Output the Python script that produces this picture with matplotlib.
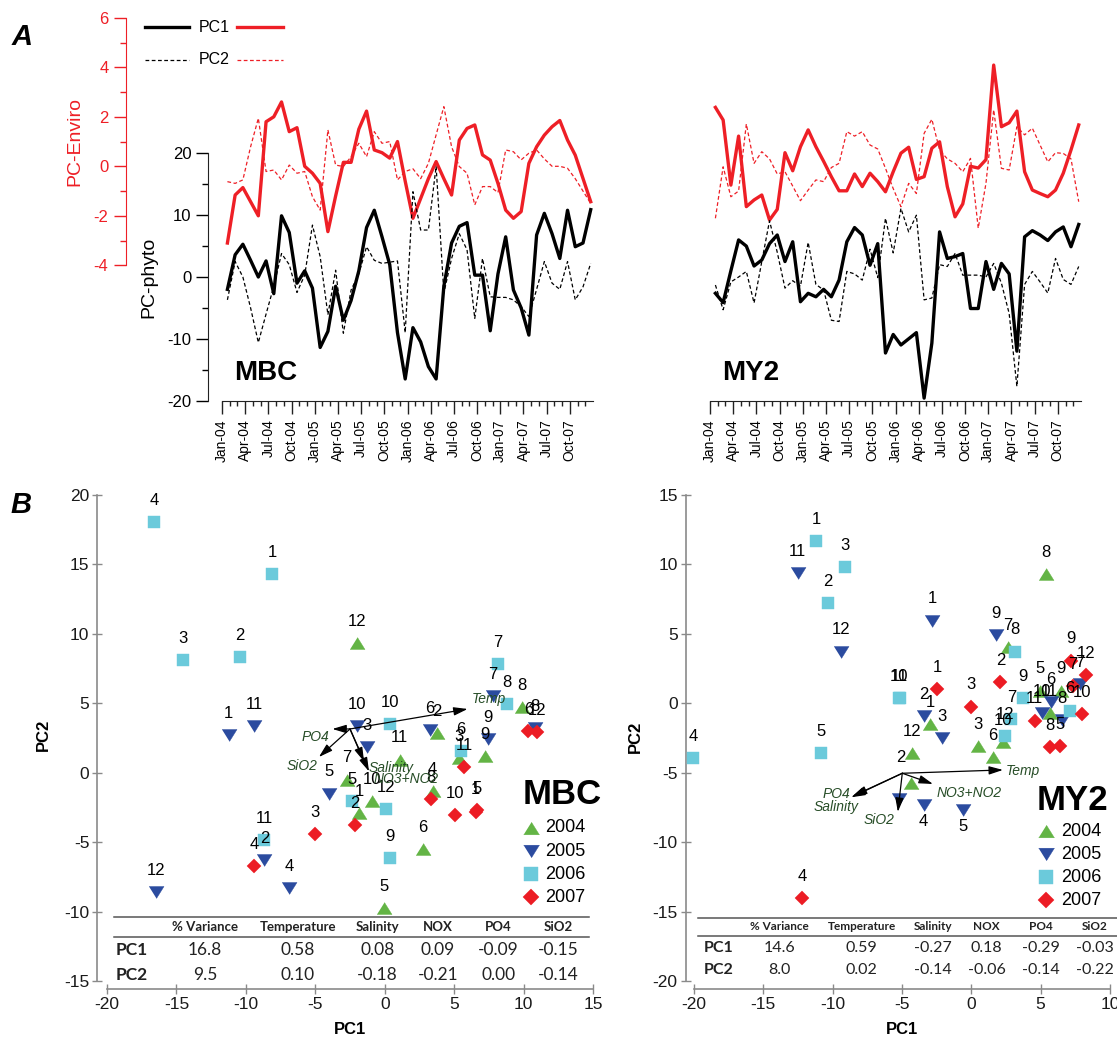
import numpy as np
import matplotlib.pyplot as plt

plt.rcParams['font.family'] = ['Liberation Sans', 'DejaVu Sans']
plt.rcParams['axes.unicode_minus'] = False

W, H = 1117, 1040

# ---------------- panel A : monthly PC scores, Jan-04 .. Dec-07 ----------------
months = np.arange(48)
quarter_ticks = np.arange(0, 48, 3)
quarter_labels = [f'{m}-{y:02d}' for y in range(4, 8) for m in ('Jan', 'Apr', 'Jul', 'Oct')]

mbc_phyto_pc1 = [-2.0, 3.6, 5.3, 2.7, 0.0, 2.6, -2.7, 9.9, 7.2, -1.0, 1.0, -1.8,
                 -11.4, -8.8, -1.5, -7.0, -3.8, 1.0, 8.0, 10.8, 6.5, 2.0, -9.0, -16.5,
                 -8.2, -10.5, -14.5, -16.5, -1.5, 5.5, 8.2, 8.8, 0.3, 0.3, -8.7, 0.5,
                 6.5, -2.1, -5.0, -9.4, 6.8, 10.3, 7.0, 3.0, 10.8, 4.9, 5.5, 10.9]
mbc_phyto_pc2 = [-3.7, 2.5, 0.0, -5.0, -10.6, -6.0, -1.5, 3.8, 2.0, -2.5, 0.3, 8.4,
                 3.3, -6.1, 1.1, -9.1, -2.1, 0.5, 4.9, 2.7, 2.2, 2.4, 2.6, -9.0,
                 13.8, 7.6, 7.6, 17.9, -2.6, 3.0, 7.0, 4.4, -6.7, 3.0, -3.2, -3.3,
                 -3.3, -3.7, -4.8, -6.4, -2.0, 2.5, -1.0, -2.0, 2.5, -3.7, -1.6, 2.2]
mbc_env_pc1 = [-3.1, -1.16, -0.86, -1.43, -2.0, 1.8, 2.0, 2.6, 1.4, 1.56, 0.0, -0.28,
               -0.69, -2.64, -1.2, 0.16, 0.16, 1.5, 2.23, 0.66, 0.55, 0.33, 1.0, -0.6,
               -2.1, -1.3, -0.5, 0.19, -0.5, -1.16, 1.06, 1.53, 1.67, 0.46, 0.25, -0.69,
               -1.77, -2.1, -1.83, 0.12, 0.79, 1.26, 1.6, 1.85, 1.06, 0.45, -0.49, -1.43]
mbc_env_pc2 = [-0.62, -0.69, -0.55, 0.79, 1.94, -0.21, -0.15, -0.55, 0.05, -0.28, -0.21, -1.23,
               -1.77, 1.47, 0.05, -0.01, 0.39, 0.93, 0.39, 1.4, 0.93, 1.0, -0.55, -0.21,
               -0.1, -0.5, 0.12, 1.27, 2.41, 0.79, -0.01, -0.28, -1.56, -0.82, -0.82, -1.06,
               0.66, 0.59, 0.26, 0.53, 0.66, 0.3, 0.0, 0.0, -0.08, -0.5, -1.0, -1.5]

my2_phyto_pc1 = [-2.64, -4.15, 1.0, 6.0, 5.0, 1.78, 2.75, 5.4, 6.8, 2.5, 5.7, -4.0,
                 -2.64, -3.2, -2.0, -3.2, -0.49, 5.7, 8.0, 6.8, 1.9, 5.4, -12.3, -9.3,
                 -11.0, -10.0, -9.0, -19.6, -10.7, 7.3, 3.0, 3.3, 3.8, -5.1, -5.1, 2.5,
                 -2.0, 2.2, 0.5, -12.0, 6.5, 7.5, 6.8, 5.9, 7.3, 8.1, 4.9, 8.5]
my2_phyto_pc2 = [-1.3, -5.3, -0.8, 0.0, 0.9, -4.2, 2.5, 9.1, 4.0, -1.8, -0.6, -1.5,
                 5.6, -1.2, -2.1, -7.0, -7.2, 0.9, 0.5, -0.5, 4.5, -0.1, 9.5, 3.9,
                 11.1, 7.3, 10.0, -3.7, -3.4, 2.0, 1.7, 3.8, 0.3, 0.3, 0.3, 0.0,
                 2.2, -1.0, -5.9, -17.7, -1.2, 0.9, -0.8, -2.6, 3.0, -0.4, -1.2, 1.7]
my2_env_pc1 = [2.38, 1.87, -0.76, 1.22, -1.63, -1.36, -1.16, -2.17, -1.74, 0.55, -0.18, 0.79,
               1.47, 0.79, 0.2, -0.42, -0.99, -0.99, -0.31, -0.82, -0.28, -0.62, -1.03, -0.22,
               0.53, 0.77, -0.53, -0.42, 0.73, 0.99, -0.82, -2.04, -1.52, 0.0, -0.07, 0.27,
               4.09, 1.6, 1.76, 2.23, -0.22, -0.96, -1.1, -1.23, -0.96, -0.28, 0.66, 1.67]
my2_env_pc2 = [-2.1, -0.02, -1.23, -1.0, 1.71, 0.12, 0.59, 0.3, -0.31, -0.22, -0.8, -1.39,
               -0.96, -0.55, -0.62, -0.05, 0.12, 1.4, 1.22, 1.4, 0.86, 0.7, -0.08, -0.9,
               -1.63, -0.69, -1.1, 1.33, 1.9, 0.66, 0.3, 0.12, -0.22, 0.32, -2.5, -0.69,
               2.28, -0.08, -0.15, 1.6, 1.27, 1.54, 0.86, 0.18, 0.55, 0.52, 0.3, -1.43]

# ---------------- panel B : PCA scores by month, one dict entry per year ----------------
years = [2004, 2005, 2006, 2007]

mbc_month = {2004: [12, 2, 8, 3, 9, 11, 7, 10, 1, 4, 6, 5],
             2005: [1, 11, 10, 3, 6, 7, 9, 5, 2, 4, 12, 8],
             2006: [4, 1, 3, 2, 7, 8, 10, 6, 5, 12, 11, 9],
             2007: [6, 12, 11, 8, 10, 5, 1, 2, 3, 4]}
mbc_pc1 = {2004: [-1.97, 3.73, 9.86, 5.36, 7.24, 1.08, -2.74, -0.94, -1.83, 3.45, 2.75, -0.08],
           2005: [-11.23, -9.38, -1.97, -1.25, 3.25, 7.8, 7.43, -3.98, -8.67, -6.91, -16.45, 10.85],
           2006: [-16.6, -8.1, -14.55, -10.44, 8.13, 8.8, 0.36, 5.48, -2.35, 0.1, -8.67, 0.36],
           2007: [10.35, 11.0, 5.72, 3.32, 5.04, 6.67, 6.55, -2.16, -5.05, -9.38]}
mbc_pc2 = {2004: [9.34, 2.86, 4.73, 1.06, 1.17, 0.94, -0.5, -2.07, -2.9, -1.35, -5.48, -9.75],
           2005: [2.74, 3.34, 3.34, 1.82, 3.05, 5.5, 2.43, -1.5, -6.27, -8.31, -8.6, 3.2],
           2006: [18.06, 14.3, 8.14, 8.3, 7.85, 4.97, 3.53, 1.53, -2.02, -2.64, -4.83, -6.15],
           2007: [2.98, 2.92, 0.41, -1.87, -3.03, -2.71, -2.8, -3.79, -4.4, -6.7]}

my2_month = {2004: [8, 7, 1, 12, 2, 3, 6, 10, 5, 9, 11],
             2005: [11, 12, 1, 9, 2, 3, 4, 5, 6, 10, 8, 7, ''],
             2006: [1, 3, 2, 8, 10, 11, 9, 7, 12, 4, 5, 6],
             2007: [1, 3, 2, 9, 12, 7, 10, 11, 8, 5, 4]}
my2_pc1 = {2004: [5.41, 2.64, -2.96, -4.29, -4.38, 0.48, 1.56, 2.28, 4.93, 6.49, 5.65],
           2005: [-12.51, -9.38, -2.84, 1.75, -3.44, -2.09, -3.44, -0.6, 5.72, 5.12, 6.56, 7.81, -5.25],
           2006: [-11.18, -9.12, -10.35, 3.12, -5.22, -5.17, 3.72, 2.88, 2.4, -20.04, -10.87, 7.09],
           2007: [-2.45, 0.0, 2.09, 7.21, 8.3, 7.33, 7.98, 4.57, 5.7, 6.37, -12.22]}
my2_pc2 = {2004: [9.29, 4.03, -1.49, -3.6, -5.72, -3.08, -3.89, -2.77, 0.91, 0.91, -0.72],
           2005: [9.37, 3.72, 5.95, 4.92, -0.92, -2.52, -7.33, -7.69, 0.12, -0.72, -1.2, 1.39, -6.9],
           2006: [11.69, 9.8, 7.2, 3.72, 0.36, 0.36, 0.36, -1.15, -2.36, -3.96, -3.6, -0.53],
           2007: [1.01, -0.24, 1.51, 3.07, 2.04, 1.25, -0.77, -1.25, -3.13, -3.08, -14.05]}
# labels that sit somewhere other than straight above their marker (points)
my2_label_shift = {(2005, 4): (0, -12), (2005, 5): (0, -12), (2004, 2): (-7, 18)}

# environmental loading vectors drawn in the biplots
mbc_vec_origin = (-2.5, 3.15)
mbc_vec_names = ['Temp', 'PO4', 'SiO2', 'Salinity', 'NO3+NO2']
mbc_vec_x = [5.97, -3.77, -4.74, -1.49, -1.13]
mbc_vec_y = [4.59, 3.15, 1.13, 0.81, 0.09]
mbc_vec_lab_x = [7.49, -4.99, -5.92, 0.49, 1.55]
mbc_vec_lab_y = [5.31, 2.57, 0.45, 0.34, -0.43]

my2_vec_origin = (-4.98, -5.04)
my2_vec_names = ['Temp', 'NO3+NO2', 'PO4', 'Salinity', 'SiO2']
my2_vec_x = [2.28, -2.77, -8.54, -8.66, -5.3]
my2_vec_y = [-4.8, -5.81, -6.68, -6.77, -7.82]
my2_vec_lab_x = [3.74, -0.14, -9.76, -9.77, -6.62]
my2_vec_lab_y = [-4.86, -6.44, -6.56, -7.49, -8.41]

# loadings tables
table_cols = ['% Variance', 'Temperature', 'Salinity', 'NOX', 'PO4', 'SiO2']
mbc_table_pc1 = ['16.8', '0.58', '0.08', '0.09', '-0.09', '-0.15']
mbc_table_pc2 = ['9.5', '0.10', '-0.18', '-0.21', '0.00', '-0.14']
my2_table_pc1 = ['14.6', '0.59', '-0.27', '0.18', '-0.29', '-0.03']
my2_table_pc2 = ['8.0', '0.02', '-0.14', '-0.06', '-0.14', '-0.22']

RED = '#ee1f26'
GREEN = '#63b445'
BLUE = '#2b4b9f'
CYAN = '#6bcadb'
DRED = '#ec1c24'
GREY = '#8a8a8a'
VEC_TXT = '#274d27'

tri_up = [(-1, -0.8), (1, -0.8), (0, 0.8)]
tri_dn = [(-1, 0.8), (1, 0.8), (0, -0.8)]
year_style = {2004: (GREEN, tri_up, 10.8), 2005: (BLUE, tri_dn, 10.8),
              2006: (CYAN, 's', 9.0), 2007: (DRED, 'D', 7.6)}

fig = plt.figure(figsize=(W / 100, H / 100), dpi=100)


def px_axes(x0, y0, x1, y1, **kw):
    return fig.add_axes([x0 / W, 1 - y1 / H, (x1 - x0) / W, (y1 - y0) / H], **kw)


# shared vertical scales of panel A, in pixels
TS_TOP, TS_BOT = 14, 401
PHY_ZERO, PHY_PX = 277.0, 6.18
ENV_ZERO, ENV_PX = 166.3, 24.75
MONTH_PX = 7.73


def time_panel(x0, phy1, phy2, env1, env2, show_y):
    ax = px_axes(x0, TS_TOP, x0 + 48 * MONTH_PX, TS_BOT)
    axr = ax.twinx()
    ax.set_zorder(axr.get_zorder() + 1)
    ax.patch.set_visible(False)
    ax.set_xlim(0, 48)
    ax.set_ylim((PHY_ZERO - TS_BOT) / PHY_PX, (PHY_ZERO - TS_TOP) / PHY_PX)
    axr.set_ylim((ENV_ZERO - TS_BOT) / ENV_PX, (ENV_ZERO - TS_TOP) / ENV_PX)

    t = months + 0.7
    axr.plot(t, env2, color=RED, lw=0.9, ls=(0, (3, 2)))
    axr.plot(t, env1, color=RED, lw=2.4)
    ax.plot(t, phy2, color='black', lw=0.9, ls=(0, (3, 2)))
    ax.plot(t, phy1, color='black', lw=2.4)

    for a in (ax, axr):
        for s in a.spines.values():
            s.set_visible(False)
    ax.spines['bottom'].set_visible(True)
    ax.spines['bottom'].set_color('#222222')
    ax.set_xticks(quarter_ticks, quarter_labels, rotation=90, fontsize=10)
    ax.set_xticks(months, minor=True)
    ax.tick_params(axis='x', which='major', length=9, width=1, pad=4, color='#222222')
    ax.tick_params(axis='x', which='minor', length=3.8, width=1, color='#222222')

    if show_y:
        sp = ax.spines['left']
        sp.set_visible(True)
        sp.set_color('#222222')
        sp.set_position(('outward', 10))
        sp.set_bounds(-20, 20)
        ax.set_yticks([-20, -10, 0, 10, 20])
        ax.set_yticks([-15, -5, 5, 15], minor=True)
        ax.tick_params(axis='y', which='major', length=9, width=1, labelsize=12, pad=3)
        ax.tick_params(axis='y', which='minor', length=4, width=1)

        axr.yaxis.set_ticks_position('left')
        sp = axr.spines['left']
        sp.set_visible(True)
        sp.set_color(RED)
        sp.set_position(('outward', 69.3))
        sp.set_bounds(-4, 6)
        axr.set_yticks([-4, -2, 0, 2, 4, 6])
        axr.set_yticks([-3, -1, 1, 3, 5], minor=True)
        axr.tick_params(axis='y', which='major', length=8.5, width=1, labelsize=12,
                        pad=4, colors=RED)
        axr.tick_params(axis='y', which='minor', length=4, width=1, colors=RED)
    else:
        ax.tick_params(axis='y', which='both', left=False, labelleft=False)
        axr.tick_params(axis='y', which='both', left=False, labelleft=False,
                        right=False, labelright=False)
    return ax


time_panel(222, mbc_phyto_pc1, mbc_phyto_pc2, mbc_env_pc1, mbc_env_pc2, True)
time_panel(710, my2_phyto_pc1, my2_phyto_pc2, my2_env_pc1, my2_env_pc2, False)


def biplot(box, xlim, ylim, left_out, month, pc1, pc2, shifts,
           vec_origin, vec_names, vec_x, vec_y, lab_x, lab_y):
    ax = px_axes(*box)
    ax.set_xlim(*xlim)
    ax.set_ylim(*ylim)
    ax.patch.set_visible(False)
    for s in ('top', 'right'):
        ax.spines[s].set_visible(False)
    for s in ('left', 'bottom'):
        ax.spines[s].set_color(GREY)
        ax.spines[s].set_linewidth(1.2)
    ax.spines['left'].set_position(('outward', left_out))
    ax.spines['bottom'].set_position(('outward', 5.8))
    ax.set_xticks(np.arange(xlim[0], xlim[1] + 1, 5))
    ax.set_yticks(np.arange(ylim[0], ylim[1] + 1, 5))
    ax.tick_params(direction='inout', length=7.5, width=1, color=GREY,
                   labelsize=12.5, labelcolor='#1a1a1a', pad=2)

    for yr in years:
        color, mk, ms = year_style[yr]
        ax.plot(pc1[yr], pc2[yr], ls='none', marker=mk, ms=ms, color=color,
                mec=color, mew=0.3, clip_on=False, zorder=3)
    for yr in years:
        for m, x, y in zip(month[yr], pc1[yr], pc2[yr]):
            dx, dy = shifts.get((yr, m), (0, 15.6))
            ax.annotate(str(m), (x, y), xytext=(dx, dy), textcoords='offset points',
                        ha='center', va='center', fontsize=12, zorder=4,
                        annotation_clip=False)
    for name, tx, ty, lx, ly in zip(vec_names, vec_x, vec_y, lab_x, lab_y):
        ax.annotate('', xy=(tx, ty), xytext=vec_origin, zorder=5,
                    arrowprops=dict(arrowstyle='-|>,head_length=0.6,head_width=0.18',
                                    color='black', lw=0.9, shrinkA=0, shrinkB=0,
                                    mutation_scale=14))
        ax.text(lx, ly, name, style='italic', color=VEC_TXT, fontsize=10,
                ha='center', va='center', zorder=5)
    return ax


biplot((107, 495, 593, 981), (-20, 15), (-15, 20), 7.0,
       mbc_month, mbc_pc1, mbc_pc2, {},
       mbc_vec_origin, mbc_vec_names, mbc_vec_x, mbc_vec_y, mbc_vec_lab_x, mbc_vec_lab_y)
biplot((694, 495, 1110, 981), (-20, 10), (-20, 15), 6.0,
       my2_month, my2_pc1, my2_pc2, my2_label_shift,
       my2_vec_origin, my2_vec_names, my2_vec_x, my2_vec_y, my2_vec_lab_x, my2_vec_lab_y)

# ---------------- annotations placed in pixel space ----------------
ov = px_axes(0, 0, W, H, zorder=10)
ov.set_xlim(0, W)
ov.set_ylim(H, 0)
ov.axis('off')

ov.text(22, 37, 'A', fontsize=21, fontweight='bold', style='italic', ha='center', va='center')
ov.text(21, 505, 'B', fontsize=21, fontweight='bold', style='italic', ha='center', va='center')

# panel A legend
for row, (lab, lw, ls) in enumerate([('PC1', 2.4, '-'), ('PC2', 0.9, (0, (3, 2)))]):
    yy = 27 + row * 33
    ov.plot([145, 189], [yy, yy], color='black', lw=lw, ls=ls)
    ov.plot([237, 283], [yy, yy], color=RED, lw=lw, ls=ls)
    ov.text(199, yy, lab, fontsize=11.5, va='center', ha='left')

ov.text(75, 142, 'PC-Enviro', color=RED, fontsize=14, rotation=90, ha='center', va='center')
ov.text(149, 277, 'PC-phyto', fontsize=14, rotation=90, ha='center', va='center')
ov.text(234, 373, 'MBC', fontsize=20, fontweight='bold', ha='left', va='center')
ov.text(722, 373, 'MY2', fontsize=20, fontweight='bold', ha='left', va='center')

# panel B axis titles
ov.text(43, 735, 'PC2', fontsize=12, fontweight='bold', rotation=90, ha='center', va='center')
ov.text(350, 1029, 'PC1', fontsize=12, fontweight='bold', ha='center', va='center')
ov.text(635, 737, 'PC2', fontsize=12, fontweight='bold', rotation=90, ha='center', va='center')
ov.text(902, 1029, 'PC1', fontsize=12, fontweight='bold', ha='center', va='center')

# site names and year legends inside the biplots
for site, (cx, cy), (mx, tx, y0) in [('MBC', (562, 795), (531, 545, 828)),
                                     ('MY2', (1072, 801), (1046, 1061, 831))]:
    ov.text(cx, cy, site, fontsize=25, fontweight='bold', ha='center', va='center')
    for i, yr in enumerate(years):
        color, mk, ms = year_style[yr]
        yy = y0 + i * 23.1
        ov.plot([mx], [yy], ls='none', marker=mk, ms=ms * 1.05, color=color, mec=color, mew=0.3)
        ov.text(tx, yy, str(yr), fontsize=13, ha='left', va='center')

# loadings tables
for (xl, xr, lines, head_y, rows_y, col_x, lab_x, pc1v, pc2v, hfs, vfs) in [
        (114, 589, (916.7, 936.7), 926.7, (950, 975),
         [205, 298, 377.5, 438, 498.6, 558.6], 116, mbc_table_pc1, mbc_table_pc2, 9.5, 12.5),
        (698, 1117, (918.3, 935.7), 926.7, (948.3, 970),
         [779.3, 861.7, 932.7, 986.7, 1041, 1095], 704, my2_table_pc1, my2_table_pc2, 8.5, 11.5)]:
    for ly in lines:
        ov.plot([xl, xr], [ly, ly], color='#555555', lw=1.1)
    for cx, name in zip(col_x, table_cols):
        ov.text(cx, head_y, name, family='Lato', fontweight='bold', fontsize=hfs,
                ha='center', va='center', color='#222222')
    for ry, lab, vals in zip(rows_y, ['PC1', 'PC2'], [pc1v, pc2v]):
        ov.text(lab_x, ry, lab, family='Lato', fontweight='bold', fontsize=vfs,
                ha='left', va='center', color='#222222')
        for cx, v in zip(col_x, vals):
            ov.text(cx, ry, v, family='Lato', fontsize=vfs, ha='center', va='center',
                    color='#222222')

fig.savefig('out.png', dpi=100)
